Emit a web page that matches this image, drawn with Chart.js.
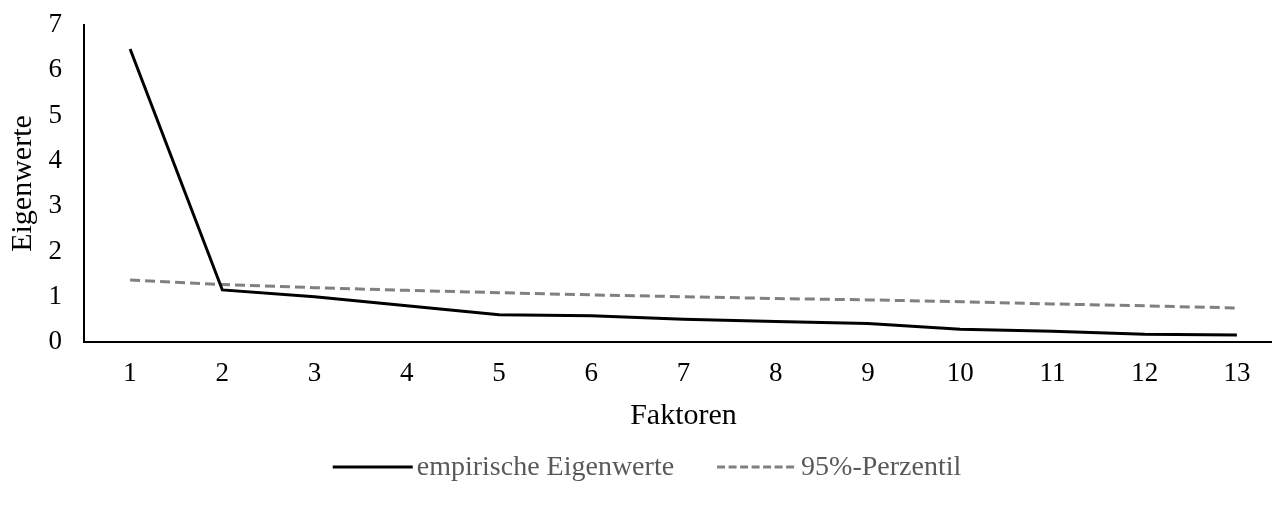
<!DOCTYPE html>
<html>
<head>
<meta charset="utf-8">
<script src="https://cdn.jsdelivr.net/npm/chart.js@4"></script>
<style>
  html, body { margin: 0; padding: 0; background: #fff; overflow: hidden; }
  /* etwas breiter als das Fenster: die x-Achse läuft rechts über den Rand hinaus */
  #wrap { width: 1283px; height: 509px; }
</style>
</head>
<body>
<div id="wrap"><canvas id="screeChart"></canvas></div>
<script>
const faktoren = ['1', '2', '3', '4', '5', '6', '7', '8', '9', '10', '11', '12', '13'];
const empirischeEigenwerte = [6.47, 1.15, 1.0, 0.8, 0.6, 0.58, 0.5, 0.45, 0.41, 0.28, 0.24, 0.17, 0.155];
const perzentil95 = [1.37, 1.27, 1.2, 1.14, 1.09, 1.04, 1.0, 0.96, 0.93, 0.89, 0.84, 0.8, 0.75];

const schrift = 'Liberation Serif, Times New Roman, serif';

// Legende wie im Original: kurze Linie, Text direkt daneben, Einträge zentriert
const legendePlugin = {
    id: 'legendeUnten',
    afterDraw(chart) {
        const c = chart.ctx;
        const y = 467;
        const linie = 80, abstand = 4, zwischen = 43;
        c.save();
        c.font = '28px ' + schrift;
        c.textBaseline = 'middle';
        const eintraege = chart.data.datasets.map(ds => ({
            text: ds.label,
            farbe: ds.borderColor,
            dash: ds.borderDash ? [8, 3.5] : [],
            breite: c.measureText(ds.label).width
        }));
        let gesamt = 0;
        eintraege.forEach((e, i) => {
            gesamt += linie + abstand + e.breite + (i > 0 ? zwischen : 0);
        });
        let x = 647 - gesamt / 2;
        eintraege.forEach((e, i) => {
            if (i > 0) x += zwischen;
            c.beginPath();
            c.setLineDash(e.dash);
            c.lineWidth = 3;
            c.strokeStyle = e.farbe;
            c.moveTo(x, y);
            c.lineTo(x + linie, y);
            c.stroke();
            x += linie + abstand;
            c.fillStyle = '#595959';
            c.fillText(e.text, x, y + 1);
            x += e.breite;
        });
        c.restore();
    }
};

const ctx = document.getElementById('screeChart');
new Chart(ctx, {
    type: 'line',
    data: {
        labels: faktoren,
        datasets: [{
            label: 'empirische Eigenwerte',
            data: empirischeEigenwerte,
            borderColor: '#000000',
            borderWidth: 3,
            pointRadius: 0,
            tension: 0
        }, {
            label: '95%-Perzentil',
            data: perzentil95,
            borderColor: '#808080',
            borderWidth: 3,
            borderDash: [10, 5],
            pointRadius: 0,
            tension: 0
        }]
    },
    plugins: [legendePlugin],
    options: {
        responsive: true,
        maintainAspectRatio: false,
        animation: false,
        layout: { padding: { top: 25, right: 0, left: 0, bottom: 74 } },
        plugins: {
            tooltip: { enabled: false },
            legend: { display: false }
        },
        scales: {
            x: {
                offset: true,
                grid: { display: false, drawTicks: false },
                border: { color: '#000000', width: 2 },
                ticks: { color: '#000000', font: { family: schrift, size: 27 }, padding: 16 },
                title: {
                    display: true,
                    text: 'Faktoren',
                    color: '#000000',
                    font: { family: schrift, size: 30 },
                    padding: { top: 0, bottom: 1 }
                },
                afterFit(scale) { scale.height = 93; }
            },
            y: {
                min: 0,
                max: 7,
                grid: { display: false, drawTicks: false },
                border: { color: '#000000', width: 2 },
                ticks: { stepSize: 1, color: '#000000', font: { family: schrift, size: 27 }, padding: 22 },
                title: {
                    display: true,
                    text: 'Eigenwerte',
                    color: '#000000',
                    font: { family: schrift, size: 30 },
                    padding: { top: 5, bottom: 0 }
                },
                afterFit(scale) {
                    scale.width = 84;
                    scale.paddingTop = 0;
                    scale.paddingBottom = 0;
                }
            }
        }
    }
});
</script>
</body>
</html>
